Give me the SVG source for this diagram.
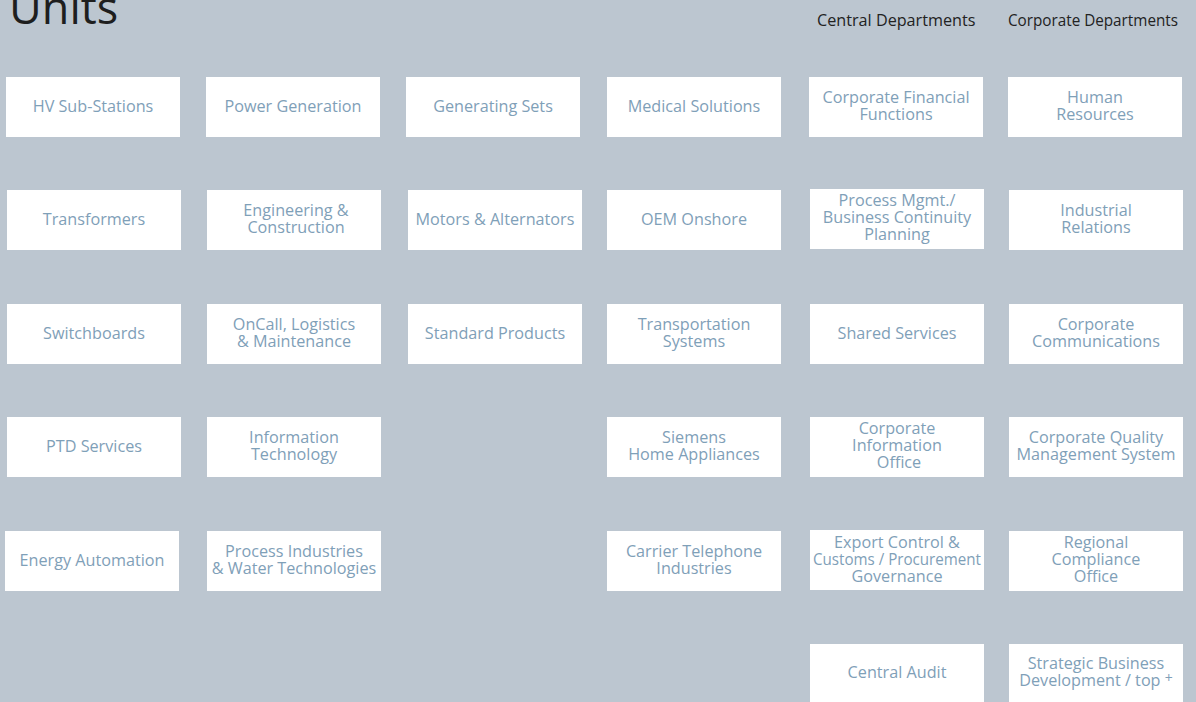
<svg xmlns="http://www.w3.org/2000/svg" width="1196" height="702" viewBox="0 0 1196 702">
  <style>
    .bg { fill: #bcc6d0; }
    .box rect { fill: #ffffff; }
    .box text { font-family: "Open Sans", "Noto Sans", sans-serif; font-size: 16.2px; fill: #7fa0b8; text-anchor: middle; }
    .head { font-family: "Open Sans", "Noto Sans", sans-serif; font-size: 16.2px; fill: #222222; }
    .title { font-family: "Open Sans", "Noto Sans", sans-serif; font-size: 45px; fill: #1e1e1e; }
  </style>
  <rect class="bg" x="0" y="0" width="1196" height="702"/>
  <text class="title" x="9" y="24">Units</text>
  <text class="head" x="817" y="26">Central Departments</text>
  <text class="head" x="1008" y="26" textLength="170" lengthAdjust="spacingAndGlyphs">Corporate Departments</text>

  <!-- column 1 -->
  <g id="hv-sub-stations" class="box"><rect x="6" y="77" width="174" height="60"/><text x="93" y="112">HV Sub-Stations</text></g>
  <g id="transformers" class="box"><rect x="7" y="190" width="174" height="60"/><text x="94" y="225">Transformers</text></g>
  <g id="switchboards" class="box"><rect x="7" y="304" width="174" height="60"/><text x="94" y="339">Switchboards</text></g>
  <g id="ptd-services" class="box"><rect x="7" y="417" width="174" height="60"/><text x="94" y="452">PTD Services</text></g>
  <g id="energy-automation" class="box"><rect x="5" y="531" width="174" height="60"/><text x="92" y="566">Energy Automation</text></g>

  <!-- column 2 -->
  <g id="power-generation" class="box"><rect x="206" y="77" width="174" height="60"/><text x="293" y="112">Power Generation</text></g>
  <g id="engineering-construction" class="box"><rect x="207" y="190" width="174" height="60"/><text x="296" y="216">Engineering &amp;</text><text x="296" y="233">Construction</text></g>
  <g id="oncall-logistics" class="box"><rect x="207" y="304" width="174" height="60"/><text x="294" y="330">OnCall, Logistics</text><text x="294" y="347">&amp; Maintenance</text></g>
  <g id="information-technology" class="box"><rect x="207" y="417" width="174" height="60"/><text x="294" y="443">Information</text><text x="294" y="460">Technology</text></g>
  <g id="process-industries" class="box"><rect x="207" y="531" width="174" height="60"/><text x="294" y="557">Process Industries</text><text x="294" y="574">&amp; Water Technologies</text></g>

  <!-- column 3 -->
  <g id="generating-sets" class="box"><rect x="406" y="77" width="174" height="60"/><text x="493" y="112">Generating Sets</text></g>
  <g id="motors-alternators" class="box"><rect x="408" y="190" width="174" height="60"/><text x="495" y="225">Motors &amp; Alternators</text></g>
  <g id="standard-products" class="box"><rect x="408" y="304" width="174" height="60"/><text x="495" y="339">Standard Products</text></g>

  <!-- column 4 -->
  <g id="medical-solutions" class="box"><rect x="607" y="77" width="174" height="60"/><text x="694" y="112">Medical Solutions</text></g>
  <g id="oem-onshore" class="box"><rect x="607" y="190" width="174" height="60"/><text x="694" y="225">OEM Onshore</text></g>
  <g id="transportation-systems" class="box"><rect x="607" y="304" width="174" height="60"/><text x="694" y="330">Transportation</text><text x="694" y="347">Systems</text></g>
  <g id="siemens-home-appliances" class="box"><rect x="607" y="417" width="174" height="60"/><text x="694" y="443">Siemens</text><text x="694" y="460">Home Appliances</text></g>
  <g id="carrier-telephone" class="box"><rect x="607" y="531" width="174" height="60"/><text x="694" y="557">Carrier Telephone</text><text x="694" y="574">Industries</text></g>

  <!-- central departments -->
  <g id="corporate-financial-functions" class="box"><rect x="809" y="77" width="174" height="60"/><text x="896" y="103">Corporate Financial</text><text x="896" y="120">Functions</text></g>
  <g id="process-mgmt" class="box"><rect x="810" y="189" width="174" height="60"/><text x="897" y="206">Process Mgmt./</text><text x="897" y="223">Business Continuity</text><text x="897" y="240">Planning</text></g>
  <g id="shared-services" class="box"><rect x="810" y="304" width="174" height="60"/><text x="897" y="339">Shared Services</text></g>
  <g id="corporate-information-office" class="box"><rect x="810" y="417" width="174" height="60"/><text x="897" y="434">Corporate</text><text x="897" y="451">Information</text><text x="899" y="468">Office</text></g>
  <g id="export-control" class="box"><rect x="810" y="530" width="174" height="60"/><text x="897" y="548">Export Control &amp;</text><text x="897" y="565" textLength="168" lengthAdjust="spacingAndGlyphs">Customs / Procurement</text><text x="897" y="582">Governance</text></g>
  <g id="central-audit" class="box"><rect x="810" y="644" width="174" height="60"/><text x="897" y="678">Central Audit</text></g>

  <!-- corporate departments -->
  <g id="human-resources" class="box"><rect x="1008" y="77" width="174" height="60"/><text x="1095" y="103">Human</text><text x="1095" y="120">Resources</text></g>
  <g id="industrial-relations" class="box"><rect x="1009" y="190" width="174" height="60"/><text x="1096" y="216">Industrial</text><text x="1096" y="233">Relations</text></g>
  <g id="corporate-communications" class="box"><rect x="1009" y="304" width="174" height="60"/><text x="1096" y="330">Corporate</text><text x="1096" y="347">Communications</text></g>
  <g id="corporate-quality" class="box"><rect x="1009" y="417" width="174" height="60"/><text x="1096" y="443">Corporate Quality</text><text x="1096" y="460">Management System</text></g>
  <g id="regional-compliance" class="box"><rect x="1009" y="531" width="174" height="60"/><text x="1096" y="548">Regional</text><text x="1096" y="565">Compliance</text><text x="1096" y="582">Office</text></g>
  <g id="strategic-business-development" class="box"><rect x="1009" y="644" width="174" height="60"/><text x="1096" y="669">Strategic Business</text><text x="1096" y="686">Development / top <tspan dy="-3" font-size="14">+</tspan></text></g>

  <!-- no connectors are drawn between the units -->
  <g id="connectors"/>
</svg>
